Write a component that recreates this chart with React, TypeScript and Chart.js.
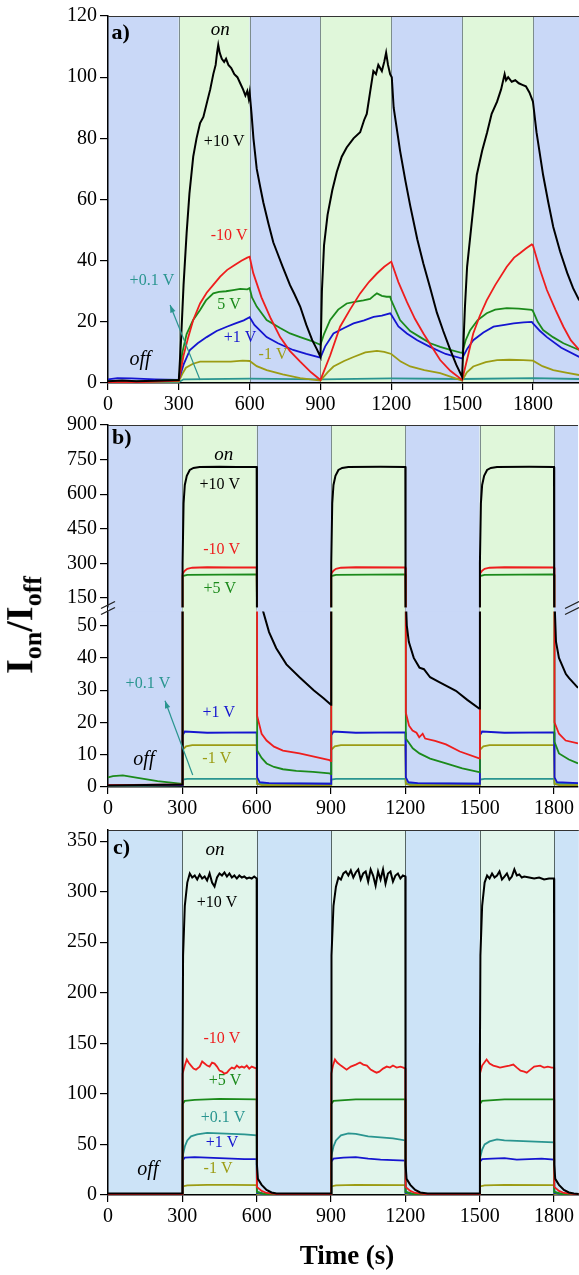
import React, { useEffect, useRef } from 'react';
import { Chart, registerables } from 'chart.js';

Chart.register(...registerables);

type P = [number, number][];

const SERIF = '"Liberation Serif", "Times New Roman", Times, serif';

// ---------- tick labels / switching times ----------
const X_TICKS = [0, 300, 600, 900, 1200, 1500, 1800];
const SWITCH_TIMES = [300, 600, 900, 1200, 1500, 1800];
const A_Y_TICKS = [0, 20, 40, 60, 80, 100, 120];
const B_Y_TICKS_LOW = [0, 10, 20, 30, 40, 50];
const B_Y_TICKS_HIGH = [150, 300, 450, 600, 750, 900];
const C_Y_TICKS = [0, 50, 100, 150, 200, 250, 300, 350];

// ---------- colours ----------
const BLACK = '#000000';
const RED = '#ee1d1d';
const GREEN = '#1b8a1b';
const BLUE = '#1515d0';
const OLIVE = '#9c9c14';
const TEAL = '#2a9590';

// ---------- panel a data (time s, Ion/Ioff) ----------
const A_BLACK: P = [
  [0, 0.6], [60, 0.8], [120, 0.6], [200, 0.7], [300, 1], [310, 15], [320, 32], [333, 49], [345, 62], [361, 74],
  [375, 80], [390, 85], [404, 87], [420, 92], [433, 96], [446, 101], [456, 104], [462, 108], [467, 110.5], [473, 108],
  [482, 106], [492, 105], [500, 106], [510, 104], [522, 103], [535, 101], [548, 100], [560, 98], [572, 96], [582, 94],
  [590, 95.5], [596, 93], [600, 95], [608, 88], [616, 80], [630, 70], [645, 64], [658, 59], [680, 52], [700, 46],
  [715, 43], [740, 38], [771, 32], [790, 29], [814, 25], [840, 19], [865, 14], [885, 11], [900, 8.5], [906, 30],
  [915, 45], [930, 55], [950, 63], [969, 69], [990, 74], [1011, 77], [1040, 80], [1068, 82], [1085, 86], [1096, 88],
  [1110, 95], [1124, 102], [1135, 101], [1145, 104], [1160, 102], [1170, 105], [1178, 108], [1186, 104], [1195, 101],
  [1202, 100], [1210, 90], [1237, 76], [1260, 66], [1280, 58], [1310, 47], [1336, 39], [1365, 31], [1393, 23],
  [1420, 17], [1449, 11], [1475, 6], [1500, 2], [1505, 12], [1512, 25], [1521, 38], [1540, 52], [1562, 68], [1585, 76],
  [1606, 82], [1625, 88], [1648, 92], [1665, 96], [1680, 101], [1686, 99], [1695, 100], [1710, 98.5], [1725, 99],
  [1740, 98], [1755, 97.5], [1770, 97], [1785, 95], [1800, 92], [1815, 82], [1843, 68], [1865, 59], [1886, 51],
  [1915, 43], [1945, 36], [1970, 31], [1996, 27],
];
const A_RED: P = [
  [0, 0.3], [150, 0.3], [300, 0.8], [320, 9], [340, 15], [361, 20.6], [390, 26], [418, 29.5], [445, 32], [475, 34.8],
  [505, 37], [535, 38.5], [565, 40], [590, 41], [600, 41.3], [615, 36], [650, 28], [690, 21], [729, 15], [770, 10.5],
  [814, 7], [860, 3.5], [900, 1], [941, 9], [983, 18.4], [1025, 24], [1068, 29.3], [1105, 33], [1139, 35.8],
  [1170, 38], [1200, 39.7], [1230, 33], [1266, 26.5], [1300, 21], [1336, 16.2], [1370, 12], [1407, 7.5], [1450, 4],
  [1500, 1], [1525, 9], [1547, 16.2], [1575, 22], [1604, 27], [1640, 32], [1689, 38], [1720, 41], [1746, 42.5],
  [1770, 44], [1795, 45.3], [1800, 45], [1830, 37], [1859, 30.4], [1895, 24], [1929, 18.4], [1960, 14], [1996, 10.8],
];
const A_GREEN: P = [
  [0, 0.5], [150, 0.5], [300, 1], [315, 10], [333, 16], [360, 20.5], [390, 23.9], [415, 27], [446, 29.3], [470, 29.8],
  [500, 30], [530, 30.4], [560, 30.8], [590, 30.6], [600, 31], [610, 28], [630, 25], [672, 20.6], [729, 18], [771, 16.2],
  [814, 15], [860, 13.8], [900, 12.5], [915, 16], [941, 20.6], [975, 24], [1011, 26], [1050, 26.6], [1082, 27],
  [1110, 27.5], [1130, 28.8], [1139, 29.3], [1160, 28.5], [1180, 28.2], [1195, 28.2], [1200, 27], [1237, 20.6],
  [1280, 17], [1322, 15], [1365, 13], [1407, 11.8], [1450, 10.8], [1500, 9.8], [1515, 14], [1534, 17.3], [1565, 20.5],
  [1604, 22.8], [1640, 24], [1689, 24.5], [1740, 24.3], [1795, 23.9], [1800, 23.5], [1820, 20], [1843, 17.3],
  [1885, 15], [1929, 13], [1996, 10.8],
];
const A_BLUE: P = [
  [0, 1.2], [40, 1.6], [100, 1.5], [200, 1.2], [300, 1], [320, 6], [347, 10.8], [380, 13], [418, 15], [460, 17],
  [503, 18.4], [540, 19.5], [575, 20.5], [600, 21.5], [620, 19], [672, 15], [720, 13], [784, 10.8], [840, 9.5],
  [900, 8.3], [920, 12], [955, 16.2], [1000, 18], [1040, 19.5], [1085, 20.5], [1125, 21.6], [1160, 22], [1195, 22.8],
  [1200, 22.3], [1230, 18.5], [1266, 16.2], [1310, 14], [1364, 11.8], [1430, 9.5], [1500, 8], [1520, 11], [1547, 14],
  [1590, 16.5], [1633, 18.4], [1680, 19], [1718, 19.5], [1760, 19.8], [1795, 20], [1800, 19.5], [1830, 17],
  [1859, 15], [1920, 11.5], [1996, 8.5],
];
const A_OLIVE: P = [
  [0, 0.3], [300, 0.5], [315, 3], [330, 5], [360, 6.3], [390, 7], [450, 7], [520, 7], [570, 7.3], [600, 7.2],
  [630, 5.5], [672, 4.2], [740, 2.8], [814, 1.6], [900, 0.8], [930, 3.5], [955, 5.4], [1000, 7.2], [1040, 8.5],
  [1090, 10], [1139, 10.5], [1170, 10.2], [1200, 9.5], [1240, 7], [1280, 5.4], [1340, 4.2], [1407, 3.2], [1500, 0.8],
  [1520, 3.5], [1547, 5.4], [1600, 6.8], [1648, 7.5], [1700, 7.6], [1760, 7.5], [1800, 7.3], [1840, 5.5], [1886, 4.2],
  [1940, 3.4], [1996, 2.6],
];
const A_TEAL: P = [
  [0, 0.2], [300, 0.3], [320, 1.2], [600, 1.4], [900, 1.2], [1200, 1.5], [1500, 1.3], [1800, 1.6], [1996, 1.3],
];

// ---------- panel b data ----------
const B_BLACK: P = [
  [0, 0.5], [300, 0.8], [301, 300], [305, 560], [310, 640], [318, 680], [330, 705], [345, 714], [370, 718], [450, 719],
  [520, 718], [600, 718], [601, 95], [624, 55], [650, 48], [679, 43], [720, 38], [773, 34], [830, 30], [870, 27.5],
  [900, 25.5], [901, 300], [905, 560], [910, 640], [918, 680], [930, 705], [945, 714], [970, 718], [1100, 719],
  [1200, 718], [1201, 60], [1206, 50], [1214, 45], [1234, 40], [1257, 37], [1275, 36.5], [1300, 34], [1337, 32.5],
  [1404, 29.8], [1450, 27], [1498, 24.3], [1501, 300], [1505, 560], [1510, 640], [1518, 680], [1530, 705], [1545, 714],
  [1570, 718], [1700, 719], [1800, 718], [1801, 60], [1808, 45], [1820, 40], [1848, 35], [1861, 33.7], [1897, 30.7],
];
const B_RED: P = [
  [0, 0.6], [300, 0.8], [301, 255], [310, 268], [320, 276], [340, 281], [400, 283], [500, 282], [600, 282], [602, 22],
  [620, 16.5], [640, 14.4], [670, 12.5], [706, 11.3], [773, 10.4], [827, 9.5], [894, 8.3], [900, 8], [901, 255],
  [910, 268], [920, 276], [940, 281], [1000, 283], [1200, 282], [1202, 23], [1215, 19], [1229, 17.5], [1245, 16.8],
  [1256, 15.4], [1270, 16.5], [1280, 15], [1320, 14.3], [1364, 13.2], [1420, 11], [1498, 8.9], [1501, 255], [1510, 268],
  [1520, 276], [1540, 281], [1600, 283], [1800, 282], [1802, 20], [1820, 16.5], [1847, 14.4], [1897, 13.5],
];
const B_GREEN: P = [
  [0, 3], [20, 3.4], [60, 3.6], [120, 2.8], [200, 1.8], [300, 1], [301, 245], [320, 250], [600, 252], [602, 11.3],
  [620, 9], [640, 7.3], [670, 6.2], [706, 5.5], [760, 5], [827, 4.7], [894, 4.2], [900, 4], [901, 245], [920, 250],
  [1200, 252], [1202, 15], [1230, 12], [1257, 10.4], [1300, 8.8], [1364, 7.3], [1430, 5.8], [1498, 4.6], [1501, 245],
  [1520, 250], [1800, 252], [1802, 14], [1820, 10.4], [1860, 8.5], [1897, 7.3],
];
const B_BLUE: P = [
  [0, 0.5], [300, 0.6], [301, 16], [310, 17.2], [400, 16.8], [600, 16.9], [602, 3], [612, 1.5], [650, 1.2], [900, 1],
  [901, 16], [910, 17.2], [1000, 16.8], [1200, 16.9], [1202, 3], [1212, 1.5], [1250, 1.2], [1500, 1], [1501, 16],
  [1510, 17.2], [1600, 16.8], [1800, 16.9], [1802, 3], [1812, 1.5], [1897, 1.2],
];
const B_OLIVE: P = [
  [0, 0.4], [300, 0.6], [301, 11.5], [315, 12.6], [340, 13], [600, 13], [602, 1], [620, 0.6], [900, 0.6], [901, 11.5],
  [915, 12.6], [940, 13], [1200, 13], [1202, 1], [1220, 0.6], [1500, 0.6], [1501, 11.5], [1515, 12.6], [1540, 13],
  [1800, 13], [1802, 1], [1820, 0.6], [1897, 0.6],
];
const B_TEAL: P = [
  [0, 0.3], [300, 0.5], [301, 2.3], [320, 2.5], [600, 2.5], [602, 1], [900, 1], [901, 2.3], [920, 2.5], [1200, 2.5],
  [1202, 1], [1500, 1], [1501, 2.3], [1520, 2.5], [1800, 2.5], [1802, 1], [1897, 1],
];

// ---------- panel c data ----------
const C_BLACK: P = [
  [0, 1.5], [300, 1.5], [301, 139], [303, 237], [310, 286], [320, 309], [330, 318], [340, 314], [350, 316], [360, 312],
  [370, 317], [380, 313], [390, 315], [400, 311], [410, 318], [420, 309], [430, 305], [440, 314], [450, 318], [460, 316],
  [470, 319], [480, 315], [490, 318], [500, 314], [510, 316], [520, 313], [530, 316], [540, 314], [550, 315], [560, 313],
  [570, 314], [580, 313], [590, 315], [600, 313], [601, 30], [605, 16], [620, 10], [640, 5], [660, 2.5], [680, 1.5],
  [900, 1.5], [901, 139], [903, 237], [910, 286], [920, 305], [930, 314], [940, 312], [950, 318], [960, 320], [970, 316],
  [980, 321], [990, 314], [1000, 319], [1010, 322], [1020, 312], [1030, 318], [1040, 320], [1050, 310], [1060, 322],
  [1070, 316], [1080, 306], [1090, 320], [1100, 312], [1110, 322], [1120, 308], [1130, 318], [1140, 320], [1150, 310],
  [1160, 316], [1170, 318], [1180, 313], [1190, 316], [1200, 315], [1201, 30], [1205, 16], [1220, 10], [1240, 5],
  [1260, 2.5], [1290, 1.5], [1500, 1.5], [1501, 139], [1503, 237], [1510, 286], [1520, 309], [1530, 316], [1540, 313],
  [1550, 318], [1560, 314], [1570, 316], [1580, 320], [1590, 312], [1600, 315], [1610, 318], [1620, 312], [1630, 315],
  [1640, 322], [1650, 316], [1660, 317], [1670, 314], [1680, 315], [1700, 314], [1720, 313], [1740, 314], [1760, 312],
  [1780, 313], [1800, 313], [1801, 30], [1805, 16], [1820, 10], [1840, 5], [1860, 2.5], [1880, 1.5], [1900, 1],
];
const C_RED: P = [
  [0, 1], [300, 1], [301, 120], [310, 128], [318, 134], [325, 131], [335, 128], [345, 125], [355, 124], [370, 127],
  [380, 132], [390, 130], [400, 128], [410, 127], [420, 131], [430, 130], [440, 127], [450, 123], [460, 122], [470, 120],
  [480, 121], [490, 124], [500, 126], [510, 125], [520, 128], [530, 126], [540, 127], [550, 126], [560, 128], [570, 125],
  [580, 127], [590, 126], [600, 125], [601, 8], [620, 4], [640, 2], [680, 1], [900, 1], [901, 120], [908, 128],
  [916, 134], [925, 131], [940, 128], [963, 124], [980, 127], [1000, 129], [1017, 131], [1030, 129], [1045, 128],
  [1060, 124], [1075, 122], [1084, 121], [1095, 122], [1110, 125], [1125, 127], [1138, 126], [1150, 128], [1165, 126],
  [1180, 127], [1192, 126], [1200, 125], [1201, 8], [1220, 4], [1240, 2], [1280, 1], [1500, 1], [1501, 120],
  [1510, 128], [1528, 134], [1540, 130], [1555, 128], [1570, 127], [1582, 126], [1600, 127], [1620, 128], [1636, 129],
  [1650, 126], [1665, 123], [1680, 122], [1690, 121], [1705, 124], [1720, 127], [1744, 128], [1760, 126], [1775, 127],
  [1791, 126], [1800, 126], [1801, 8], [1820, 4], [1840, 2], [1880, 1], [1900, 1],
];
const C_GREEN: P = [
  [0, 1], [300, 1], [301, 90], [310, 93], [350, 94], [450, 95], [600, 94.5], [601, 3], [630, 1], [900, 1], [901, 90],
  [910, 93], [1000, 94.5], [1200, 94.5], [1201, 3], [1230, 1], [1500, 1], [1501, 90], [1510, 93], [1600, 94.5],
  [1800, 94.5], [1801, 3], [1830, 1], [1900, 1],
];
const C_TEAL: P = [
  [0, 0.8], [300, 0.8], [301, 38], [310, 48], [320, 54], [335, 58], [360, 60], [400, 61.5], [450, 61], [500, 60.5],
  [550, 60], [600, 59], [601, 3], [630, 1], [900, 1], [901, 38], [910, 48], [920, 54], [940, 59], [970, 61],
  [1000, 60.5], [1050, 58], [1100, 57], [1150, 56], [1200, 54], [1201, 3], [1230, 1], [1500, 1], [1501, 36],
  [1510, 45], [1520, 50], [1540, 53], [1570, 55], [1600, 54], [1650, 53.5], [1700, 53], [1750, 52.5], [1800, 52],
  [1801, 3], [1830, 1], [1900, 1],
];
const C_BLUE: P = [
  [0, 0.8], [300, 0.8], [301, 34], [310, 37], [350, 37.5], [400, 37], [450, 36.5], [500, 36], [550, 35.5], [600, 35.5],
  [601, 2], [630, 0.8], [900, 0.8], [901, 33], [910, 36], [950, 37], [1000, 37.5], [1050, 36], [1100, 35], [1150, 34.5],
  [1200, 34], [1201, 2], [1230, 0.8], [1500, 0.8], [1501, 33], [1510, 35.5], [1550, 36], [1600, 36.5], [1650, 35],
  [1700, 35.5], [1750, 36], [1800, 35], [1801, 2], [1830, 0.8], [1900, 0.8],
];
const C_OLIVE: P = [
  [0, 0.5], [300, 0.5], [301, 8.5], [320, 9.5], [400, 10], [500, 10], [600, 9.8], [601, 1], [620, 0.5], [900, 0.5],
  [901, 8.5], [920, 9.5], [1000, 10], [1200, 9.8], [1201, 1], [1220, 0.5], [1500, 0.5], [1501, 8.5], [1520, 9.5],
  [1600, 10], [1800, 9.8], [1801, 1], [1820, 0.5], [1900, 0.5],
];

// ---------- annotations ----------
type Ann = { text: string; t: number; v: number; color: string; style?: string; size?: number; align?: CanvasTextAlign; axis?: string };
type Arrow = { t0: number; v0: number; t1: number; v1: number; axis?: string };

const A_LABELS: Ann[] = [
  { text: 'a)', t: 15, v: 114.5, color: BLACK, style: 'bold', size: 22, align: 'left' },
  { text: 'on', t: 475, v: 115.4, color: BLACK, style: 'italic', size: 19 },
  { text: '+10 V', t: 492, v: 78.8, color: BLACK },
  { text: '-10 V', t: 513, v: 48, color: RED },
  { text: '+0.1 V', t: 186, v: 33.4, color: TEAL },
  { text: '5 V', t: 513, v: 25.5, color: GREEN },
  { text: '+1 V', t: 559, v: 14.7, color: BLUE },
  { text: '-1 V', t: 699, v: 9.2, color: OLIVE },
  { text: 'off', t: 136, v: 7.5, color: BLACK, style: 'italic', size: 20 },
];
const A_ARROWS: Arrow[] = [{ t0: 390, v0: 1, t1: 263, v1: 25.5 }];

const B_LABELS: Ann[] = [
  { text: 'b)', t: 16, v: 844, color: BLACK, style: 'bold', size: 22, align: 'left', axis: 'yHi' },
  { text: 'on', t: 467, v: 771, color: BLACK, style: 'italic', size: 19, axis: 'yHi' },
  { text: '+10 V', t: 451, v: 641, color: BLACK, axis: 'yHi' },
  { text: '-10 V', t: 459, v: 357, color: RED, axis: 'yHi' },
  { text: '+5 V', t: 451, v: 189, color: GREEN, axis: 'yHi' },
  { text: '+0.1 V', t: 161, v: 31.9, color: TEAL, axis: 'yLo' },
  { text: '+1 V', t: 447, v: 23, color: BLUE, axis: 'yLo' },
  { text: '-1 V', t: 439, v: 8.6, color: OLIVE, axis: 'yLo' },
  { text: 'off', t: 145, v: 8.3, color: BLACK, style: 'italic', size: 20, axis: 'yLo' },
];
const B_ARROWS: Arrow[] = [{ t0: 342, v0: 3.7, t1: 230, v1: 26.7, axis: 'yLo' }];

const C_LABELS: Ann[] = [
  { text: 'c)', t: 20, v: 343, color: BLACK, style: 'bold', size: 22, align: 'left' },
  { text: 'on', t: 432, v: 341, color: BLACK, style: 'italic', size: 19 },
  { text: '+10 V', t: 440, v: 289, color: BLACK },
  { text: '-10 V', t: 460, v: 154, color: RED },
  { text: '+5 V', t: 472, v: 112.7, color: GREEN },
  { text: '+0.1 V', t: 464, v: 76.5, color: TEAL },
  { text: '+1 V', t: 460, v: 52, color: BLUE },
  { text: '-1 V', t: 444, v: 25.5, color: OLIVE },
  { text: 'off', t: 161, v: 24.5, color: BLACK, style: 'italic', size: 20 },
];

// ---------- helpers ----------
const toXY = (p: P) => p.map(([x, y]) => ({ x, y }));
const numLabel = (v: any) => String(v);
const fixedTicks = (vals: number[]) => (s: any) => {
  s.ticks = vals.map((v) => ({ value: v }));
};

type PanelCfg = {
  xMax: number;
  off: string;
  on: string;
  lineColor: string;
  outlineOff: boolean;
  labels: Ann[];
  arrows: Arrow[];
  broken: boolean;
};

function drawArrow(ctx: CanvasRenderingContext2D, x0: number, y0: number, x1: number, y1: number, color: string) {
  ctx.save();
  ctx.strokeStyle = color;
  ctx.fillStyle = color;
  ctx.lineWidth = 1.2;
  ctx.beginPath();
  ctx.moveTo(x0, y0);
  ctx.lineTo(x1, y1);
  ctx.stroke();
  const a = Math.atan2(y1 - y0, x1 - x0);
  const L = 8;
  const w = 0.35;
  ctx.beginPath();
  ctx.moveTo(x1, y1);
  ctx.lineTo(x1 - L * Math.cos(a - w), y1 - L * Math.sin(a - w));
  ctx.lineTo(x1 - L * Math.cos(a + w), y1 - L * Math.sin(a + w));
  ctx.closePath();
  ctx.fill();
  ctx.restore();
}

function drawBands(chart: any, cfg: PanelCfg, yTop: number, yBot: number) {
  const { ctx } = chart;
  const x = chart.scales.x;
  for (let i = 0; i * 300 < cfg.xMax; i++) {
    const x0 = x.getPixelForValue(i * 300);
    const x1 = x.getPixelForValue(Math.min((i + 1) * 300, cfg.xMax));
    ctx.fillStyle = i % 2 === 0 ? cfg.off : cfg.on;
    ctx.fillRect(x0, yTop, x1 - x0, yBot - yTop);
  }
}

function makePlugin(cfg: PanelCfg) {
  return {
    id: 'panelDecor',
    beforeDraw(chart: any) {
      const { ctx, chartArea: a } = chart;
      const x = chart.scales.x;
      ctx.save();
      drawBands(chart, cfg, a.top, a.bottom);
      ctx.strokeStyle = cfg.lineColor;
      ctx.lineWidth = 1;
      for (const t of SWITCH_TIMES) {
        const px = Math.round(x.getPixelForValue(t)) + 0.5;
        ctx.beginPath();
        ctx.moveTo(px, a.top);
        ctx.lineTo(px, a.bottom);
        ctx.stroke();
      }
      ctx.restore();
    },
    afterDatasetsDraw(chart: any) {
      const { ctx, chartArea: a } = chart;
      const x = chart.scales.x;
      ctx.save();
      if (cfg.broken) {
        const bnd = chart.scales.yLo.top;
        drawBands(chart, cfg, bnd - 2, bnd + 2);
      }
      for (const ar of cfg.arrows) {
        const ys = chart.scales[ar.axis || 'y'];
        drawArrow(ctx, x.getPixelForValue(ar.t0), ys.getPixelForValue(ar.v0), x.getPixelForValue(ar.t1), ys.getPixelForValue(ar.v1), TEAL);
      }
      for (const l of cfg.labels) {
        const ys = chart.scales[l.axis || 'y'];
        ctx.font = `${l.style || 'normal'} ${l.size || 16}px ${SERIF}`;
        ctx.fillStyle = l.color;
        ctx.textAlign = l.align || 'center';
        ctx.textBaseline = 'middle';
        ctx.fillText(l.text, x.getPixelForValue(l.t), ys.getPixelForValue(l.v));
      }
      ctx.restore();
    },
    afterDraw(chart: any) {
      const { ctx, chartArea: a } = chart;
      ctx.save();
      ctx.strokeStyle = '#333';
      ctx.lineWidth = 1.2;
      ctx.beginPath();
      ctx.moveTo(a.left, a.top + 0.5);
      ctx.lineTo(a.right, a.top + 0.5);
      ctx.stroke();
      if (cfg.broken) {
        const bnd = chart.scales.yLo.top;
        ctx.strokeStyle = '#222';
        ctx.lineWidth = 1.3;
        for (const cx of [a.left, a.right - 6]) {
          for (const dy of [-1, 5]) {
            ctx.beginPath();
            ctx.moveTo(cx - 7, bnd + dy);
            ctx.lineTo(cx + 7, bnd + dy - 7);
            ctx.stroke();
          }
        }
      }
      ctx.restore();
    },
  };
}

const tickFont = { family: SERIF, size: 20, lineHeight: 1 };
const border = { display: true, color: '#000', width: 1.5 };

function xScale(xMax: number, height: number) {
  return {
    type: 'linear',
    min: 0,
    max: xMax,
    afterBuildTicks: fixedTicks(X_TICKS),
    afterFit: (s: any) => {
      s.height = height;
    },
    ticks: { font: tickFont, color: '#000', padding: 5, maxRotation: 0, autoSkip: false, callback: numLabel },
    grid: { drawOnChartArea: false, drawTicks: true, tickLength: 7, color: '#000', lineWidth: 1.2 },
    border,
  };
}

function yScale(min: number, max: number, ticks: number[], extra: any = {}) {
  return {
    type: 'linear',
    position: 'left',
    min,
    max,
    afterBuildTicks: fixedTicks(ticks),
    afterFit: (s: any) => {
      s.width = 108;
    },
    ticks: { font: tickFont, color: '#000', padding: 3, autoSkip: false, callback: numLabel },
    grid: { drawOnChartArea: false, drawTicks: true, tickLength: 8, color: '#000', lineWidth: 1.2 },
    border,
    ...extra,
  };
}

function lineSet(data: P, color: string, axis: string, width = 1.8) {
  return {
    data: toXY(data),
    borderColor: color,
    backgroundColor: color,
    borderWidth: width,
    pointRadius: 0,
    tension: 0,
    fill: false,
    yAxisID: axis,
    xAxisID: 'x',
  };
}

function baseOptions(scales: any, padding: any) {
  return {
    responsive: false,
    animation: false,
    devicePixelRatio: 1,
    events: [],
    layout: { padding },
    plugins: { legend: { display: false }, tooltip: { enabled: false }, title: { display: false } },
    scales,
  };
}

function buildA(canvas: HTMLCanvasElement) {
  const cfg: PanelCfg = { xMax: 1995, off: '#c9d8f7', on: '#e0f7da', lineColor: '#7d8d8d', outlineOff: false, labels: A_LABELS, arrows: A_ARROWS, broken: false };
  return new Chart(canvas, {
    type: 'line',
    data: {
      datasets: [
        lineSet(A_BLACK, BLACK, 'y', 2),
        lineSet(A_RED, RED, 'y'),
        lineSet(A_GREEN, GREEN, 'y'),
        lineSet(A_BLUE, BLUE, 'y'),
        lineSet(A_OLIVE, OLIVE, 'y'),
        lineSet(A_TEAL, TEAL, 'y'),
      ] as any,
    },
    options: baseOptions({ x: xScale(1995, 29), y: yScale(0, 120, A_Y_TICKS) }, { top: 16, bottom: 8, left: 0, right: 0 }) as any,
    plugins: [makePlugin(cfg)],
  });
}

function buildB(canvas: HTMLCanvasElement) {
  const cfg: PanelCfg = { xMax: 1897, off: '#c9d8f7', on: '#e0f7da', lineColor: '#7d8d8d', outlineOff: false, labels: B_LABELS, arrows: B_ARROWS, broken: true };
  const series: [P, string, number][] = [
    [B_BLACK, BLACK, 2],
    [B_RED, RED, 1.8],
    [B_GREEN, GREEN, 1.8],
    [B_BLUE, BLUE, 1.8],
    [B_OLIVE, OLIVE, 1.8],
    [B_TEAL, TEAL, 1.8],
  ];
  const datasets: any[] = [];
  for (const [d, c, w] of series) {
    datasets.push(lineSet(d, c, 'yHi', w));
    datasets.push(lineSet(d, c, 'yLo', w));
  }
  return new Chart(canvas, {
    type: 'line',
    data: { datasets },
    options: baseOptions(
      {
        x: xScale(1897, 30),
        yLo: yScale(0, 55, B_Y_TICKS_LOW, { stack: 'b', stackWeight: 179, weight: 0 }),
        yHi: yScale(100, 900, B_Y_TICKS_HIGH, { stack: 'b', stackWeight: 186, weight: 1 }),
      },
      { top: 10, bottom: 10, left: 0, right: 0 }
    ) as any,
    plugins: [makePlugin(cfg)],
  });
}

function buildC(canvas: HTMLCanvasElement) {
  const cfg: PanelCfg = { xMax: 1900, off: '#cce3f7', on: '#e1f5eb', lineColor: '#556565', outlineOff: true, labels: C_LABELS, arrows: [], broken: false };
  return new Chart(canvas, {
    type: 'line',
    data: {
      datasets: [
        lineSet(C_BLACK, BLACK, 'y', 2),
        lineSet(C_RED, RED, 'y'),
        lineSet(C_GREEN, GREEN, 'y'),
        lineSet(C_TEAL, TEAL, 'y'),
        lineSet(C_BLUE, BLUE, 'y'),
        lineSet(C_OLIVE, OLIVE, 'y'),
      ] as any,
    },
    options: baseOptions({ x: xScale(1900, 32), y: yScale(0, 361, C_Y_TICKS) }, { top: 10, bottom: 48, left: 0, right: 0 }) as any,
    plugins: [makePlugin(cfg)],
  });
}

export default function App() {
  const aRef = useRef<HTMLCanvasElement>(null);
  const bRef = useRef<HTMLCanvasElement>(null);
  const cRef = useRef<HTMLCanvasElement>(null);

  useEffect(() => {
    const charts = [buildA(aRef.current!), buildB(bRef.current!), buildC(cRef.current!)];
    return () => charts.forEach((c) => c.destroy());
  }, []);

  const canvasStyle = (top: number): React.CSSProperties => ({ position: 'absolute', left: 0, top, display: 'block' });

  return (
    <div style={{ position: 'absolute', left: 0, top: 0, width: 579, height: 1275, background: '#fff', overflow: 'hidden' }}>
      <canvas ref={aRef} width={579} height={420} style={canvasStyle(0)} />
      <canvas ref={bRef} width={579} height={415} style={canvasStyle(412)} />
      <canvas ref={cRef} width={579} height={458} style={canvasStyle(817)} />
      <div
        style={{
          position: 'absolute',
          left: 23,
          top: 625,
          transform: 'translate(-50%, -50%) rotate(-90deg)',
          whiteSpace: 'nowrap',
          fontFamily: SERIF,
          fontWeight: 'bold',
          fontSize: 38,
          lineHeight: 1,
          color: '#000',
        }}
      >
        I<sub style={{ fontSize: 26 }}>on</sub>/I<sub style={{ fontSize: 26 }}>off</sub>
      </div>
      <div
        style={{
          position: 'absolute',
          left: 347,
          top: 1255,
          transform: 'translate(-50%, -50%)',
          whiteSpace: 'nowrap',
          fontFamily: SERIF,
          fontWeight: 'bold',
          fontSize: 27,
          lineHeight: 1,
          color: '#000',
        }}
      >
        Time (s)
      </div>
    </div>
  );
}
